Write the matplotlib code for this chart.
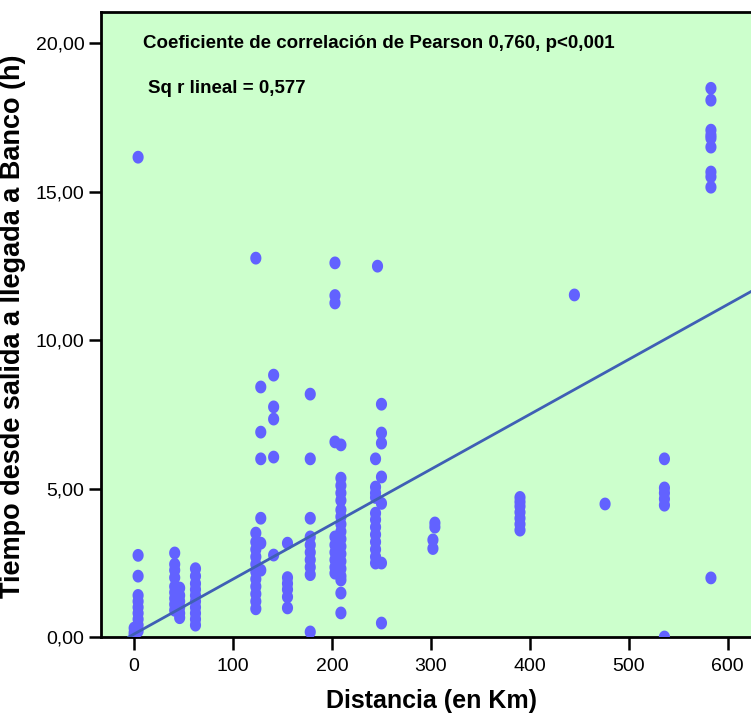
import matplotlib
matplotlib.use("Agg")
import matplotlib.pyplot as plt
from matplotlib import font_manager
from matplotlib.path import Path
from matplotlib.ticker import FuncFormatter
import numpy as np

# ---- data (distance km, time h) ----
dist_0 = [0, 0, 0, 4, 4, 4, 4, 4, 4, 4, 4, 4, 4]
time_0 = [0.05, 0.15, 0.3, 0.2, 0.4, 0.6, 0.8, 1.0, 1.2, 1.4, 2.05, 2.75, 16.16]

dist_40 = [41, 41, 41, 41, 41, 41, 41, 41, 41, 46, 46, 46, 46, 46, 46]
time_40 = [2.83, 2.45, 2.25, 2.0, 1.7, 1.5, 1.3, 1.1, 0.9, 1.65, 1.4, 1.2, 1.0, 0.8, 0.65]

dist_60 = [62, 62, 62, 62, 62, 62, 62, 62, 62, 62]
time_60 = [2.3, 2.05, 1.8, 1.6, 1.4, 1.2, 1.0, 0.8, 0.6, 0.4]

dist_120 = [123, 123, 123, 123, 123, 123, 123, 123, 123, 123, 123, 123,
            128, 128, 128, 128, 128, 128]
time_120 = [12.76, 3.5, 3.2, 2.95, 2.7, 2.45, 2.2, 1.95, 1.7, 1.45, 1.2, 0.95,
            8.42, 6.9, 6.0, 4.0, 3.16, 2.25]

dist_140 = [141, 141, 141, 141, 141, 155, 155, 155, 155, 155, 155]
time_140 = [8.82, 7.75, 7.34, 6.06, 2.76, 3.16, 2.0, 1.8, 1.6, 1.35, 0.98]

dist_178 = [178, 178, 178, 178, 178, 178, 178, 178, 178, 178]
time_178 = [8.18, 6.0, 4.0, 3.37, 3.1, 2.85, 2.6, 2.35, 2.1, 0.17]

dist_200 = [203, 203, 203, 203, 203, 203, 203, 203, 203, 203,
            209, 209, 209, 209, 209, 209, 209, 209, 209, 209, 209, 209, 209, 209, 209, 209, 209, 209]
time_200 = [12.6, 11.5, 11.25, 6.57, 3.37, 3.1, 2.85, 2.6, 2.35, 2.15,
            6.47, 5.35, 5.1, 4.85, 4.6, 4.28, 4.05, 3.8, 3.55, 3.3, 3.05, 2.8, 2.55, 2.3, 2.05, 1.92, 1.48, 0.81]

dist_245 = [244, 244, 244, 244, 244, 244, 244, 244, 244, 244, 244, 244,
            246, 250, 250, 250, 250, 250, 250, 250]
time_245 = [6.0, 5.05, 4.85, 4.7, 4.17, 3.95, 3.7, 3.45, 3.2, 2.95, 2.7, 2.49,
            12.49, 7.84, 6.87, 6.53, 5.39, 4.5, 2.49, 0.47]

dist_far = [302, 302, 304, 304, 390, 390, 390, 390, 390, 390, 390, 445, 476,
            536, 536, 536, 536, 536, 536,
            583, 583, 583, 583, 583, 583, 583, 583, 583, 583]
time_far = [3.27, 2.98, 3.84, 3.7, 4.7, 4.55, 4.4, 4.2, 4.0, 3.8, 3.6, 11.52, 4.48,
            6.0, 5.02, 4.85, 4.65, 4.44, 0.0,
            18.48, 18.08, 17.07, 16.9, 16.8, 16.5, 15.66, 15.5, 15.15, 1.99]

fit_intercept = 0.1
fit_slope = 0.0185

x_ticks = [0, 100, 200, 300, 400, 500, 600]
y_ticks = [0, 5, 10, 15, 20]

title_r = "Coeficiente de correlación de Pearson 0,760, p<0,001"
title_r2 = "Sq r lineal = 0,577"
x_label = "Distancia (en Km)"
y_label = "Tiempo desde salida a llegada a Banco (h)"

# ---- fonts ----
names = {f.name for f in font_manager.fontManager.ttflist}
narrow = "Liberation Sans Narrow" if "Liberation Sans Narrow" in names else "Liberation Sans"
wide = "Liberation Sans"

dist = dist_0 + dist_40 + dist_60 + dist_120 + dist_140 + dist_178 + dist_200 + dist_245 + dist_far
time = time_0 + time_40 + time_60 + time_120 + time_140 + time_178 + time_200 + time_245 + time_far

fig = plt.figure(figsize=(7.51, 7.2), dpi=100)
ax = fig.add_axes([101/751, 83/720, 650/751, 625/720])
ax.set_facecolor("#CCFFCC")

t = np.linspace(0, 2*np.pi, 60)
ell = Path(np.column_stack([np.cos(t), 1.15*np.sin(t)]))
ax.scatter(dist, time, s=85, marker=ell, color="#6262FF", edgecolors="none", zorder=3)

xl = (-33.5, 623.5)
x0 = -fit_intercept / fit_slope
ax.plot([x0, xl[1]], [0, fit_intercept + fit_slope*xl[1]], color="#3F5FB5", lw=2, zorder=4)

ax.set_xlim(*xl)
ax.set_ylim(0, 21.05)
ax.set_xticks(x_ticks)
ax.set_yticks(y_ticks)
ax.yaxis.set_major_formatter(FuncFormatter(lambda v, p: f"{v:.2f}".replace(".", ",")))
ax.tick_params(direction="out", length=9, width=1.8, colors="black", labelsize=14, pad=3)
ax.tick_params(axis="x", pad=6)
for lab in ax.get_xticklabels() + ax.get_yticklabels():
    lab.set_fontfamily(narrow)
for s in ["left", "bottom", "top"]:
    ax.spines[s].set_linewidth(2)
ax.spines["right"].set_visible(False)

ax.set_xlabel(x_label, fontsize=18, fontweight="bold", family=narrow)
ax.xaxis.set_label_coords((432 - 101) / 650, -(689 - 637) / 625)
ax.set_ylabel(y_label, fontsize=19.5, fontweight="bold", family=wide)
ax.yaxis.set_label_coords(-(101 - 26) / 650, (637 - 326) / 625)

ax.text(9, 20.0, title_r, fontsize=13.5, fontweight="bold", family=narrow, va="center", ha="left")
ax.text(14, 18.48, title_r2, fontsize=13.5, fontweight="bold", family=narrow, va="center", ha="left")

fig.savefig("out.png", dpi=100)
